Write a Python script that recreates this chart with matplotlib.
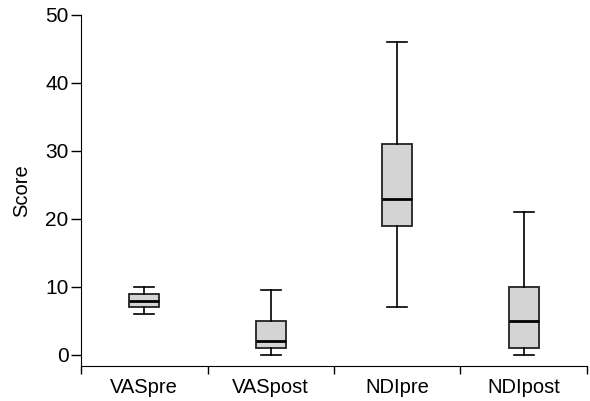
import matplotlib
matplotlib.use("Agg")
import matplotlib.pyplot as plt
import numpy as np

plt.rcParams['font.family'] = ['Liberation Sans', 'DejaVu Sans']

groups = ["VASpre", "VASpost", "NDIpre", "NDIpost"]
whislo = [6, 0, 7, 0]
q1 = [7, 1, 19, 1]
med = [8, 2, 23, 5]
q3 = [9, 5, 31, 10]
whishi = [10, 9.5, 46, 21]

stats = []
for i, g in enumerate(groups):
    stats.append({"label": g, "whislo": whislo[i], "q1": q1[i], "med": med[i],
                  "q3": q3[i], "whishi": whishi[i], "fliers": []})

fig = plt.figure(figsize=(5.9, 4.01), dpi=100)
ax = fig.add_axes([0.1373, 0.0873, 0.8576, 0.8753])

pos = np.arange(len(groups)) + 0.5
ax.bxp(stats, positions=pos, widths=0.24, capwidths=0.16, patch_artist=True,
       showfliers=False,
       boxprops=dict(facecolor="#d4d4d4", edgecolor="#222222", linewidth=1.3),
       medianprops=dict(color="black", linewidth=2),
       whiskerprops=dict(color="black", linewidth=1.2),
       capprops=dict(color="black", linewidth=1.2))

ax.set_xlim(0, 4)
ax.set_ylim(-1.62, 50)
ax.set_yticks([0, 10, 20, 30, 40, 50])
ax.set_xticks(np.arange(0, 5))
ax.set_xticklabels([])
ax.set_xticks(pos, minor=True)
ax.set_xticklabels(groups, minor=True)
ax.tick_params(axis="x", which="minor", length=0, labelsize=14.5, pad=9)
ax.tick_params(axis="x", which="major", direction="out", length=6, width=1)
ax.tick_params(axis="y", direction="out", length=7, width=1, labelsize=15, pad=2)

ax.spines["top"].set_visible(False)
ax.spines["right"].set_visible(False)
ax.set_ylabel("Score", fontsize=14.5, labelpad=10)

fig.savefig("out.png", dpi=100)
